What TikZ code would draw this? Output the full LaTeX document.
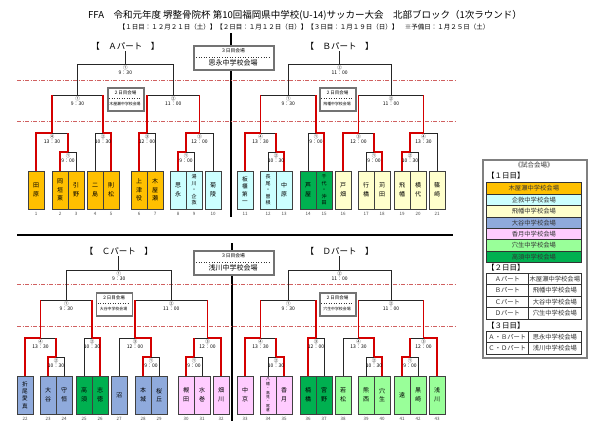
\documentclass[tikz,border=0pt]{standalone}
\usepackage{fontspec}
\setmainfont{Noto Sans CJK JP}
\definecolor{cOr}{HTML}{FFC000}
\definecolor{cCy}{HTML}{CCFFFF}
\definecolor{cYe}{HTML}{FFFFCC}
\definecolor{cBl}{HTML}{8FAADC}
\definecolor{cPk}{HTML}{FFCCFF}
\definecolor{cLg}{HTML}{99FF99}
\definecolor{cGr}{HTML}{00B050}
\definecolor{cRd}{HTML}{D40000}
\definecolor{cDd}{HTML}{D06060}
\begin{document}
\begin{tikzpicture}[x=1pt,y=-1pt,
  bk/.style={draw=black!85,line width=0.9pt},
  rd/.style={draw=cRd,line width=1.4pt},
  ddl/.style={draw=cDd,line width=0.6pt,dash pattern=on 4pt off 1.5pt on 1pt off 1.5pt},
  team/.style={draw=black!75,line width=0.9pt,minimum width=16pt,minimum height=38pt,inner sep=0pt,align=center},
  nA/.style={font=\fontsize{6}{8.7}\selectfont},
  nB/.style={font=\fontsize{6}{8.7}\selectfont},
  nC/.style={font=\fontsize{5.6}{7.4}\selectfont},
  nD/.style={font=\fontsize{5}{6.5}\selectfont},
  nE/.style={font=\fontsize{3.8}{4.4}\selectfont},
  num/.style={font=\fontsize{4.5}{5}\selectfont,inner sep=0pt,text=black!70},
  mno/.style={font=\fontsize{4.5}{5}\selectfont,inner sep=0pt},
  mtm/.style={font=\fontsize{5}{6}\selectfont,inner sep=0pt},
  ptitle/.style={font=\fontsize{8.5}{10}\selectfont,inner sep=1pt},
  vbox/.style={draw=black!55,line width=1.7pt,fill=white,inner sep=0pt},
  lgrow/.style={draw=black!80,line width=0.7pt,inner sep=0pt,anchor=north west,font=\fontsize{6.3}{7}\selectfont,text=black!80},
  lghead/.style={font=\fontsize{7.5}{8}\selectfont,inner sep=0pt,anchor=west}
]
\useasboundingbox (0,0) rectangle (612,437);
\fill[white] (0,0) rectangle (612,437);

% titles
\node[font=\fontsize{9.5}{11}\selectfont,inner sep=0pt] (title) at (305,15) {FFA　令和元年度 堺整骨院杯 第10回福岡県中学校(U-14)サッカー大会　北部ブロック（1次ラウンド）};
\node[font=\fontsize{6.5}{8}\selectfont,inner sep=0pt] (subtitle) at (304,27) {【１日目：１２月２１日（土）】【２日目：１月１２日（日）】【３日目：１月１９日（日）】　※予備日：１月２５日（土）};

% separators
\draw[line width=1.1pt] (231,33) -- (231,217);
\draw[line width=1.1pt] (17,235) -- (453,235);
\draw[line width=1.1pt] (232,243) -- (232,421);

% dash-dot lines
\foreach \yy in {80,121,284,326} \draw[ddl] (17,\yy) -- (455,\yy);

% brackets
\foreach \id/\xa/\xb/\yy/\ya/\yb/\w/\ca/\cb/\mn/\mtm in {
 a1/60/76/152/171/171/0/0/0/①/9：00,
 a2/36/68/133/171/152/0/0/1/④/13：30,
 a3/95/111/133/171/171/1/0/0/②/10：30,
 a4/139/155/133/171/171/0/0/0/③/12：00,
 a5/178/194/152/171/171/0/0/0/①/9：00,
 a6/186/213/133/152/171/0/1/0/③/12：00,
 a7/52/103/95/133/133/2/1/1/①/9：30,
 a8/147/199.5/95/133/133/2/1/1/②/11：00,
 a9/77.5/173.25/64/95/95/2/0/0/①/9：30,
 b1/268/284/152/171/171/1/0/0/②/10：30,
 b2/245/276/133/171/152/0/0/1/④/13：30,
 b3/308/324/133/171/171/1/0/0/①/9：00,
 b4/366/382/152/171/171/1/0/0/①/9：00,
 b5/343/374/133/171/152/0/0/1/③/12：00,
 b6/402/418/152/171/171/0/0/0/②/10：30,
 b7/410/437/133/152/171/0/1/0/④/13：30,
 b8/260.5/316/95/133/133/2/1/1/①/9：30,
 b9/358.5/423.5/95/133/133/2/1/1/②/11：00,
 b10/288.25/391/64/95/95/2/0/0/②/11：00,
 c1/48/64/357/376/376/0/0/0/②/10：30,
 c2/25/56/338/376/357/0/0/1/④/13：30,
 c3/84/100/338/376/376/1/0/0/②/10：30,
 c4/143/159/357/376/376/0/0/0/①/9：00,
 c5/119/151/338/376/357/1/0/1/③/12：00,
 c6/186/202/357/376/376/0/0/0/①/9：00,
 c7/194/221/338/357/376/1/1/0/③/12：00,
 c8/40.5/92/300/338/338/2/1/1/①/9：30,
 c9/135/207.5/300/338/338/2/1/1/②/11：00,
 c10/66.25/171.25/270/300/300/2/0/0/①/9：30,
 d1/268/284/357/376/376/1/0/0/②/10：30,
 d2/245/276/338/376/357/0/0/1/④/13：30,
 d3/308/324/338/376/376/0/0/0/③/12：00,
 d4/366/382/357/376/376/1/0/0/②/10：30,
 d5/343/374/338/376/357/1/0/1/④/13：30,
 d6/402/418/357/376/376/0/0/0/①/9：00,
 d7/410/437/338/357/376/1/1/0/③/12：00,
 d8/260.5/316/300/338/338/2/1/1/①/9：30,
 d9/358.5/423.5/300/338/338/2/1/1/②/11：00,
 d10/288.25/391/270/300/300/2/0/0/②/11：00}
{
  \pgfmathsetmacro\xc{(\xa+\xb)/2}
  \draw[bk] (\xa,\ya) -- (\xa,\yy) -- (\xb,\yy) -- (\xb,\yb);
  \ifnum\ca=1 \draw[rd] (\xa,\ya) -- (\xa,\yy); \fi
  \ifnum\cb=1 \draw[rd] (\xb,\yb) -- (\xb,\yy); \fi
  \ifnum\w=0 \draw[rd] (\xa,\ya) -- (\xa,\yy) -- (\xc,\yy); \fi
  \ifnum\w=1 \draw[rd] (\xb,\yb) -- (\xb,\yy) -- (\xc,\yy); \fi
  \node[mno] (\id n) at (\xc,\yy+3.3) {\mn};
  \node[mtm] (\id t) at (\xc,\yy+9.2) {\mtm};
}

% part titles and stubs
\node[ptitle] (pA) at (125.4,46) {【　Ａパート　】};
\node[ptitle] (pB) at (339.6,46) {【　Ｂパート　】};
\node[ptitle] (pC) at (118.75,251) {【　Ｃパート　】};
\node[ptitle] (pD) at (339.6,251) {【　Ｄパート　】};
\draw[bk] (pA.south) -- (125.4,64);
\draw[bk] (pB.south) -- (339.6,64);
\draw[bk] (pC.south) -- (118.75,270);
\draw[bk] (pD.south) -- (339.6,270);

% third-day boxes
\foreach \id/\yt/\txt in {tA/45/思永中学校会場, tC/250/浅川中学校会場}{
  \node[vbox,minimum width=80pt,minimum height=24pt,anchor=north west] (\id) at (193,\yt) {};
  \node[font=\fontsize{4.8}{5}\selectfont,inner sep=0pt] (\id h) at (233,\yt+6) {３日目会場};
  \draw[black!80,line width=0.6pt,dotted] (196,\yt+12) -- (270,\yt+12);
  \node[font=\fontsize{7}{8}\selectfont,inner sep=0pt] (\id v) at (233,\yt+18.3) {\txt};
}
% second-day boxes
\foreach \id/\xl/\yt/\txt in {sA/107/87/木屋瀬中学校会場, sB/319/87/飛幡中学校会場, sC/95.5/292/大谷中学校会場, sD/319/292/穴生中学校会場}{
  \node[vbox,minimum width=36pt,minimum height=23pt,anchor=north west] (\id) at (\xl,\yt) {};
  \node[font=\fontsize{4.5}{5}\selectfont,inner sep=0pt] (\id h) at (\xl+18,\yt+5.5) {２日目会場};
  \draw[black!80,line width=0.5pt,dotted] (\xl+2,\yt+11) -- (\xl+34,\yt+11);
  \node[font=\fontsize{3.9}{4.5}\selectfont,inner sep=0pt] (\id v) at (\xl+18,\yt+17) {\txt};
}

% teams, top half
\foreach \n/\x/\c/\s/\nm in {
 1/36/cOr/nB/{田\\原}, 2/60/cOr/nB/{岡\\垣\\東}, 3/76/cOr/nB/{引\\野},
 4/95/cOr/nB/{二\\島}, 5/111/cOr/nB/{則\\松}, 6/139/cOr/nB/{上\\津\\役},
 7/155/cOr/nB/{木\\屋\\瀬}, 8/178/cCy/nB/{思\\永}, 9/194/cCy/nD/{湯\\川\\・\\企\\救},
 10/213/cCy/nB/{菊\\陵}, 11/245/cCy/nC/{板\\櫃\\第\\一}, 12/268/cCy/nD/{長\\尾\\・\\曽\\根},
 13/284/cCy/nB/{中\\原}, 14/308/cGr/nB/{芦\\屋}, 15/324/cGr/nD/{千\\代\\・\\沖\\田},
 16/343/cYe/nB/{戸\\畑}, 17/366/cYe/nB/{行\\橋}, 18/382/cYe/nB/{苅\\田},
 19/402/cYe/nB/{飛\\幡}, 20/418/cYe/nB/{横\\代}, 21/437/cYe/nB/{篠\\崎}}
{
  \node[team,fill=\c,\s] (t\n) at (\x,190) {\nm};
  \node[num] (n\n) at (\x,213.5) {\n};
}
% teams, bottom half
\foreach \n/\x/\c/\s/\nm in {
 22/25/cBl/nC/{折\\尾\\愛\\真}, 23/48/cBl/nB/{大\\谷}, 24/64/cBl/nB/{守\\恒},
 25/84/cGr/nB/{高\\須}, 26/100/cGr/nB/{志\\徳}, 27/119/cBl/nA/{沼},
 28/143/cBl/nB/{本\\城}, 29/159/cBl/nB/{桜\\丘}, 30/186/cPk/nB/{槻\\田},
 31/202/cPk/nB/{水\\巻}, 32/221/cPk/nB/{畑\\川}, 33/245/cPk/nB/{中\\京},
 34/268/cPk/nE/{八\\幡\\・\\高\\見\\・\\尾\\倉}, 35/284/cPk/nB/{香\\月},
 36/308/cGr/nB/{楠\\橋}, 37/324/cGr/nB/{宮\\野}, 38/343/cLg/nB/{若\\松},
 39/366/cLg/nB/{熊\\西}, 40/382/cLg/nB/{穴\\生}, 41/402/cLg/nA/{遠},
 42/418/cLg/nB/{黒\\崎}, 43/437/cLg/nB/{浅\\川}}
{
  \node[team,fill=\c,\s] (t\n) at (\x,395) {\nm};
  \node[num] (n\n) at (\x,418.5) {\n};
}

% legend
\node[draw=black!50,line width=1.5pt,minimum width=104pt,minimum height=198pt,anchor=north west,inner sep=0pt] (legend) at (482,159) {};
\node[font=\fontsize{6.5}{7}\selectfont,inner sep=0pt,text=black!80] (lgtitle) at (534,165.5) {《試合会場》};
\node[lghead] (lgd1) at (487,175.5) {【１日目】};
\foreach \i/\c/\txt in {0/cOr/木屋瀬中学校会場, 1/cCy/企救中学校会場, 2/cYe/飛幡中学校会場, 3/cBl/大谷中学校会場, 4/cPk/香月中学校会場, 5/cLg/穴生中学校会場, 6/cGr/高須中学校会場}
  \node[lgrow,fill=\c,minimum width=95pt,minimum height=11.43pt] (lr\i) at (486,{182.3+11.43*\i}) {\txt};
\node[lghead] (lgd2) at (487,267.5) {【２日目】};
\foreach \i/\pa/\txt in {0/Ａパート/木屋瀬中学校会場, 1/Ｂパート/飛幡中学校会場, 2/Ｃパート/大谷中学校会場, 3/Ｄパート/穴生中学校会場}{
  \node[lgrow,minimum width=42pt,minimum height=11.4pt] (lp\i) at (486,{273+11.4*\i}) {\pa};
  \node[lgrow,minimum width=53pt,minimum height=11.4pt] (lv\i) at (528,{273+11.4*\i}) {\txt};
}
\node[lghead] (lgd3) at (487,325.5) {【３日目】};
\foreach \i/\pa/\txt in {0/Ａ・Ｂパート/思永中学校会場, 1/Ｃ・Ｄパート/浅川中学校会場}{
  \node[lgrow,minimum width=42pt,minimum height=11.4pt] (lq\i) at (486,{331+11.4*\i}) {\pa};
  \node[lgrow,minimum width=53pt,minimum height=11.4pt] (lw\i) at (528,{331+11.4*\i}) {\txt};
}
\end{tikzpicture}
\end{document}
